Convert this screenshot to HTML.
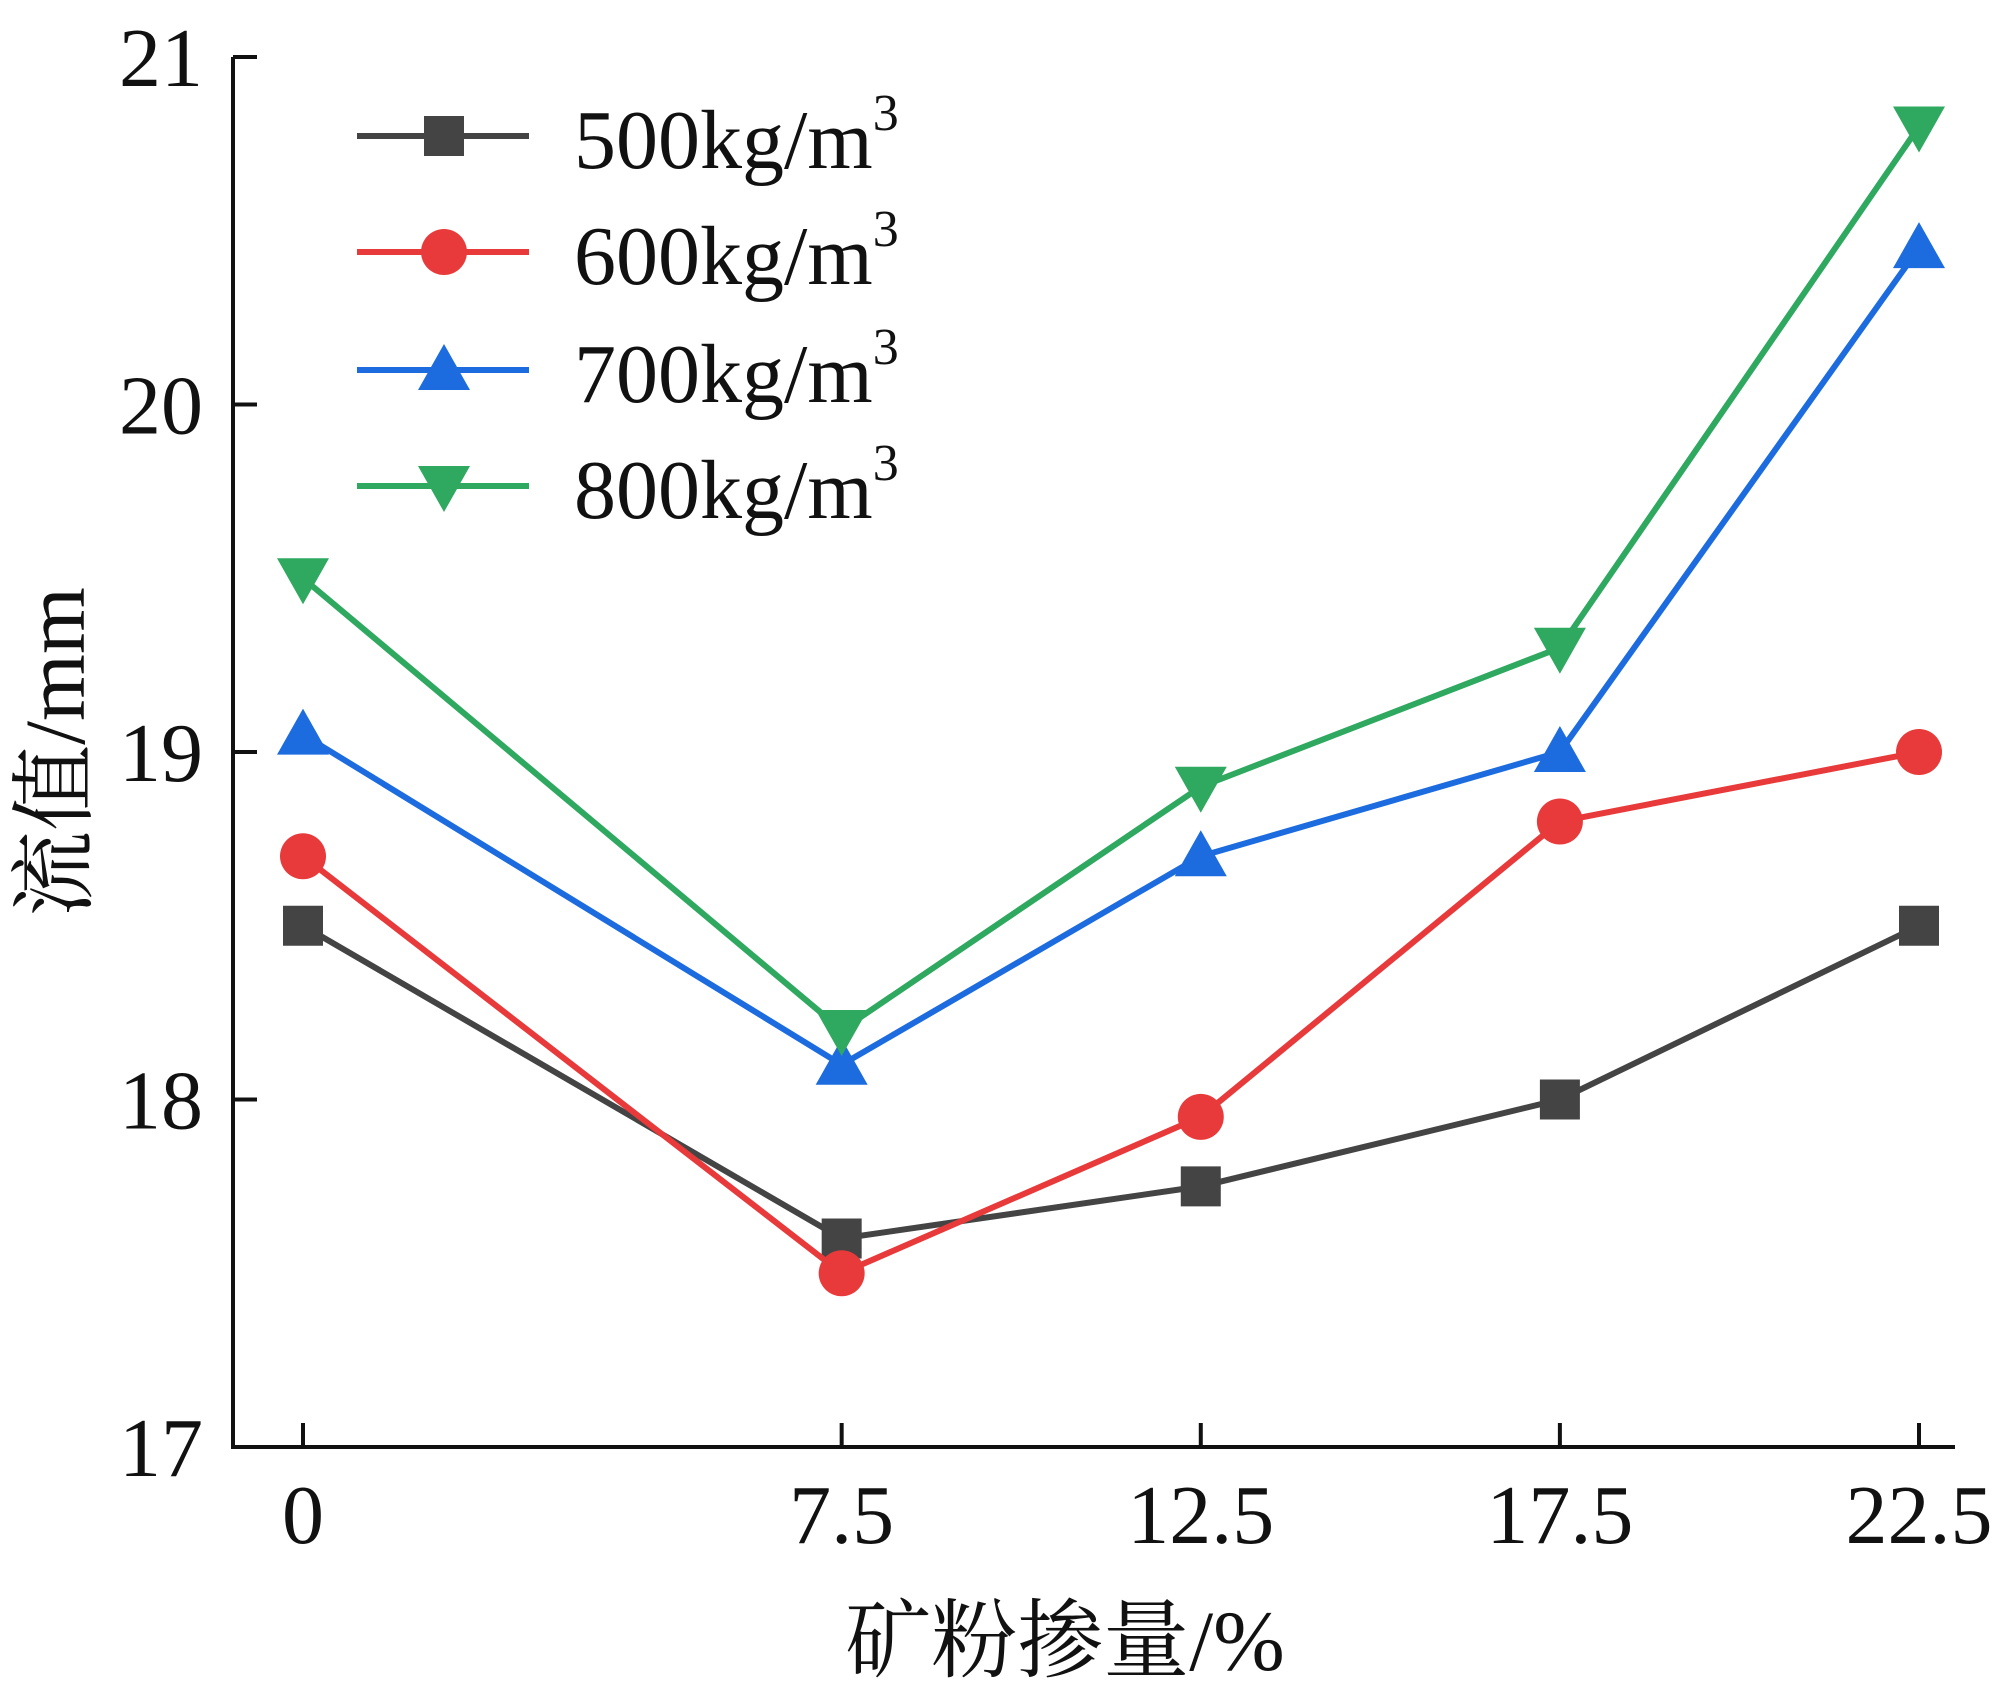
<!DOCTYPE html>
<html><head><meta charset="utf-8"><style>
html,body{margin:0;padding:0;background:#fff}
svg{display:block}
text{font-family:"Liberation Serif","Noto Serif CJK SC",serif;fill:#111}
</style></head><body>
<svg id="chart" width="1999" height="1694" viewBox="0 0 1999 1694">
<g id="axes"></g>
<g id="series"></g>
<g id="legend"></g>
<text x="1065" y="1670" font-size="86" text-anchor="middle">矿粉掺量/%</text>
<text x="0" y="0" font-size="86" text-anchor="middle" transform="translate(84,752) rotate(-90)">流值/mm</text>
</svg>
<script>
const categories = [0, 7.5, 12.5, 17.5, 22.5];
const xTickLabels = ["0", "7.5", "12.5", "17.5", "22.5"];
const yTicks = [17, 18, 19, 20, 21];
const s500 = [18.5, 17.6, 17.75, 18.0, 18.5];
const s600 = [18.7, 17.5, 17.95, 18.8, 19.0];
const s700 = [19.05, 18.1, 18.7, 19.0, 20.45];
const s800 = [19.5, 18.2, 18.9, 19.3, 20.8];
const seriesNames = ["500", "600", "700", "800"];

const NS = "http://www.w3.org/2000/svg";
const X0 = 303, X1 = 1919, Y0 = 1447, Y1 = 57;
function xs(v){ return X0 + (v - 0) / 22.5 * (X1 - X0); }
function ys(v){ return Y0 - (v - 17) / 4 * (Y0 - Y1); }
function mk(tag, attrs, parent){ const e = document.createElementNS(NS, tag); for (const k in attrs) e.setAttribute(k, attrs[k]); parent.appendChild(e); return e; }

const axes = document.getElementById('axes');
let yl = mk('line', {x1:233, y1:Y1, x2:233, y2:Y0, stroke:'#111', 'stroke-width':4}, axes);


let xl = mk('line', {x1:231, y1:Y0, x2:1955, y2:Y0, stroke:'#111', 'stroke-width':4}, axes);


yTicks.forEach(t => {
  const y = ys(t);
  const tk = mk('line', {x1:233, y1:y, x2:257, y2:y, stroke:'#111', 'stroke-width':4}, axes);
  
  
  const lb = mk('text', {x:203, y:y + 29, 'font-size':84, 'text-anchor':'end'}, axes);
  lb.textContent = String(t);
  
  
});
categories.forEach((c, i) => {
  const x = xs(c);
  const tk = mk('line', {x1:x, y1:Y0, x2:x, y2:Y0 - 24, stroke:'#111', 'stroke-width':4}, axes);
  
  
  const lb = mk('text', {x:x, y:1543, 'font-size':84, 'text-anchor':'middle'}, axes);
  lb.textContent = xTickLabels[i];
  
  
});

const colors = ['#444444', '#e83a3a', '#1c6ce0', '#2fa860'];
const shapes = ['square', 'circle', 'up', 'down'];
function marker(g, shape, x, y, col){
  let e;
  if (shape === 'square') e = mk('rect', {x:x-20, y:y-20, width:40, height:40, fill:col}, g);
  else if (shape === 'circle') e = mk('circle', {cx:x, cy:y, r:23, fill:col}, g);
  else if (shape === 'up') e = mk('polygon', {points:`${x},${y-26} ${x-26},${y+20} ${x+26},${y+20}`, fill:col}, g);
  else e = mk('polygon', {points:`${x},${y+26} ${x-26},${y-20} ${x+26},${y-20}`, fill:col}, g);
  return e;
}
const seriesG = document.getElementById('series');
[s500, s600, s700, s800].forEach((vals, si) => {
  const g = mk('g', {}, seriesG);
  
  
  const pts = vals.map((v, i) => xs(categories[i]) + ',' + ys(v)).join(' ');
  const pl = mk('polyline', {points:pts, fill:'none', stroke:colors[si], 'stroke-width':6}, g);
  
  
  vals.forEach((v, i) => {
    const m = marker(g, shapes[si], xs(categories[i]), ys(v), colors[si]);
    
    
  });
});

const legend = document.getElementById('legend');
const legY = [136, 252, 370, 486];
seriesNames.forEach((n, i) => {
  const g = mk('g', {}, legend);
  
  
  mk('line', {x1:357, y1:legY[i], x2:529, y2:legY[i], stroke:colors[i], 'stroke-width':6}, g);
  marker(g, shapes[i], 444, legY[i], colors[i]);
  const t = mk('text', {x:574, y:legY[i] + 32, 'font-size':84}, g);
  t.textContent = n + 'kg/m';
  const sup = mk('tspan', {'font-size':52, dy:-38}, t);
  sup.textContent = '3';
});
</script>
</body></html>
